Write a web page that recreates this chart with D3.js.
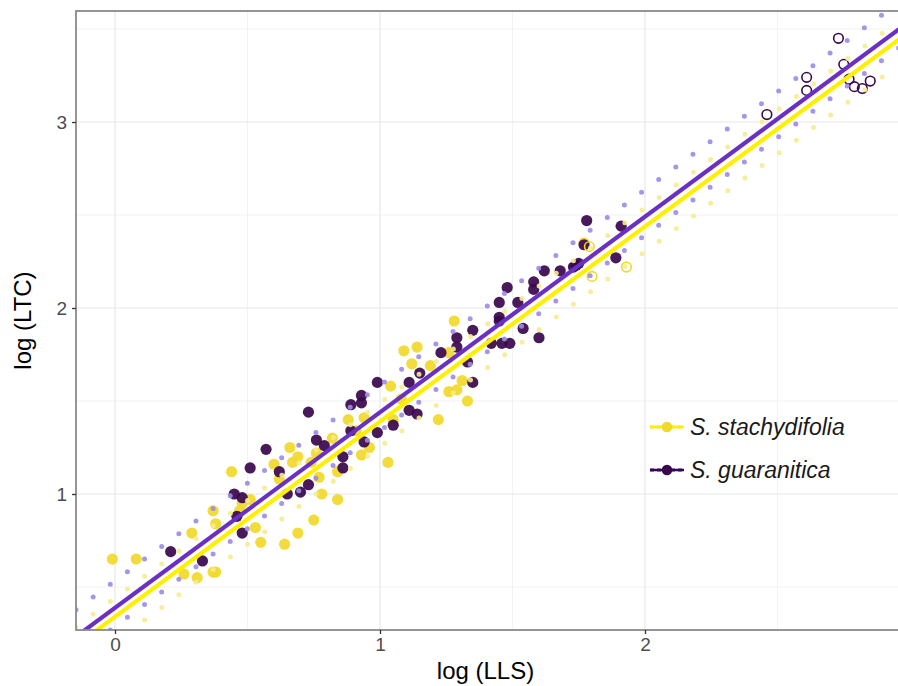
<!DOCTYPE html>
<html>
<head>
<meta charset="utf-8">
<script src="https://cdn.jsdelivr.net/npm/d3@7"></script>
<style>
  body { margin: 0; background: #fff; }
  svg { display: block; font-family: "Liberation Sans", Arial, sans-serif; }
</style>
</head>
<body>
<svg id="chart" width="898" height="686"></svg>
<script>
// species, in legend order
const species = ["S. stachydifolia", "S. guaranitica"];
const speciesColor = ["#f0d92a", "#38074c"];
const fitColor = ["#fff000", "#6a30c4"];
const bandColor = ["#f4ec90", "#9d8be4"];

// S. stachydifolia, filled points (log LLS, log LTC)
const stachLLS = [-0.01, 0.08, 0.26, 0.31, 0.37, 0.38, 0.29, 0.37, 0.38, 0.53, 0.55, 0.64, 0.48, 0.44, 0.60, 0.62,
  0.69, 0.67, 0.77, 0.78, 0.84, 0.75, 0.69, 0.88, 0.94, 0.93, 0.96, 1.03, 0.82, 0.76, 0.84, 0.66, 1.09, 1.14,
  1.12, 1.04, 1.19, 1.26, 1.28, 1.31, 1.26, 1.29, 1.33, 1.22, 1.05, 1.77, 0.51, 0.74, 0.91, 1.08, 0.47];
const stachLTC = [0.65, 0.65, 0.57, 0.55, 0.58, 0.58, 0.79, 0.91, 0.84, 0.82, 0.74, 0.73, 0.95, 1.12, 1.16, 1.08,
  1.20, 1.17, 1.09, 1.00, 0.97, 0.86, 0.79, 1.40, 1.41, 1.21, 1.25, 1.17, 1.30, 1.22, 1.12, 1.25, 1.77, 1.79,
  1.70, 1.58, 1.69, 1.76, 1.93, 1.61, 1.55, 1.56, 1.50, 1.40, 1.40, 2.35, 0.97, 1.17, 1.34, 1.51, 0.91];

// S. guaranitica, filled points
const guarLLS = [0.21, 0.33, 0.45, 0.48, 0.46, 0.65, 0.57, 0.51, 0.62, 0.48, 0.70, 0.73, 0.76, 0.79, 0.86, 0.86,
  0.89, 0.94, 0.99, 1.05, 0.73, 0.99, 1.11, 0.93, 0.89, 0.93, 1.11, 1.14, 1.15, 1.23, 1.29, 1.29, 1.35, 1.35,
  1.33, 1.42, 1.46, 1.49, 1.54, 1.45, 1.77, 1.62, 1.68, 1.48, 1.58, 1.58, 1.45, 1.52, 1.45, 1.60, 1.73, 1.75,
  1.89, 1.78, 1.91, 1.74];
const guarLTC = [0.69, 0.64, 1.00, 0.79, 0.88, 1.00, 1.24, 1.14, 1.12, 0.98, 1.01, 1.05, 1.29, 1.26, 1.20, 1.14,
  1.34, 1.28, 1.33, 1.37, 1.44, 1.60, 1.60, 1.53, 1.48, 1.49, 1.45, 1.43, 1.65, 1.76, 1.84, 1.79, 1.88, 1.60,
  1.71, 1.81, 1.81, 1.81, 1.89, 1.93, 2.34, 2.20, 2.20, 2.11, 2.14, 2.10, 2.03, 2.03, 1.95, 1.84, 2.22, 2.24,
  2.27, 2.47, 2.44, 2.23];

// open circles
const stachOpenLLS = [1.79, 1.93, 1.80];
const stachOpenLTC = [2.33, 2.22, 2.17];
const guarOpenLLS = [2.73, 2.75, 2.61, 2.61, 2.46, 2.79, 2.82, 2.85, 2.77];
const guarOpenLTC = [3.45, 3.31, 3.24, 3.17, 3.04, 3.19, 3.18, 3.22, 3.23];

// fitted lines and dotted bands, per species
const fitIntercept = [0.340, 0.388];
const fitSlope = [1.049, 1.0515];
const bandUpper = [0.10, 0.145];
const bandLower = [-0.135, -0.10];

const xTicks = [0, 1, 2];
const yTicks = [1, 2, 3];
const xMinor = [0.5, 1.5, 2.5];
const yMinor = [0.5, 1.5, 2.5, 3.5];

const svg = d3.select("#chart");
const pLeft = 76, pTop = 11, pRight = 899, pBottom = 630;

const x = d3.scaleLinear().domain([-0.1472, 2.9585]).range([pLeft, pRight]);
const y = d3.scaleLinear().domain([0.2688, 3.5968]).range([pBottom, pTop]);

svg.append("defs").append("clipPath").attr("id", "panel")
  .append("rect").attr("x", pLeft).attr("y", pTop).attr("width", pRight - pLeft).attr("height", pBottom - pTop);

// grid
const grid = svg.append("g");
grid.selectAll(".xminor").data(xMinor).enter().append("line")
  .attr("x1", d => x(d)).attr("x2", d => x(d)).attr("y1", pTop).attr("y2", pBottom)
  .attr("stroke", "#f0f0f0").attr("stroke-width", 0.9);
grid.selectAll(".yminor").data(yMinor).enter().append("line")
  .attr("y1", d => y(d)).attr("y2", d => y(d)).attr("x1", pLeft).attr("x2", pRight)
  .attr("stroke", "#f0f0f0").attr("stroke-width", 0.9);
grid.selectAll(".xmajor").data(xTicks).enter().append("line")
  .attr("x1", d => x(d)).attr("x2", d => x(d)).attr("y1", pTop).attr("y2", pBottom)
  .attr("stroke", "#e8e8e8").attr("stroke-width", 1.2);
grid.selectAll(".ymajor").data(yTicks).enter().append("line")
  .attr("y1", d => y(d)).attr("y2", d => y(d)).attr("x1", pLeft).attr("x2", pRight)
  .attr("stroke", "#e8e8e8").attr("stroke-width", 1.2);

const plot = svg.append("g").attr("clip-path", "url(#panel)");

// points
function drawPoints(xs, ys, i, open) {
  plot.append("g").selectAll("circle")
    .data(xs.map((v, k) => [v, ys[k]]))
    .enter().append("circle")
    .attr("cx", d => x(d[0])).attr("cy", d => y(d[1]))
    .attr("r", open ? 4.8 : 5.6)
    .attr("fill", open ? "none" : speciesColor[i])
    .attr("fill-opacity", 0.92)
    .attr("stroke", speciesColor[i])
    .attr("stroke-width", open ? 1.6 : 0);
}
drawPoints(stachLLS, stachLTC, 0, false);
drawPoints(guarLLS, guarLTC, 1, false);
drawPoints(stachOpenLLS, stachOpenLTC, 0, true);
drawPoints(guarOpenLLS, guarOpenLTC, 1, true);

// dotted bands then fitted lines
const xd = x.domain();
const line = d3.line().x(d => x(d[0])).y(d => y(d[1]));
species.forEach((s, i) => {
  [bandUpper[i], bandLower[i]].forEach(off => {
    plot.append("path")
      .attr("d", line(xd.map(v => [v, fitIntercept[i] + off + fitSlope[i] * v])))
      .attr("fill", "none").attr("stroke", bandColor[i]).attr("stroke-width", 5)
      .attr("stroke-linecap", "round").attr("stroke-dasharray", "0 21.3")
      .attr("stroke-opacity", 0.9);
  });
});
species.forEach((s, i) => {
  plot.append("path")
    .attr("d", line(xd.map(v => [v, fitIntercept[i] + fitSlope[i] * v])))
    .attr("fill", "none").attr("stroke", fitColor[i]).attr("stroke-width", 4.2);
});

// panel border and axes
svg.append("rect").attr("x", pLeft).attr("y", pTop).attr("width", pRight - pLeft).attr("height", pBottom - pTop)
  .attr("fill", "none").attr("stroke", "#8a8a8a").attr("stroke-width", 1.8);

const xAxis = svg.append("g").attr("transform", `translate(0,${pBottom})`)
  .call(d3.axisBottom(x).tickValues(xTicks).tickFormat(d3.format("d")).tickSize(4).tickPadding(4));
const yAxis = svg.append("g").attr("transform", `translate(${pLeft},0)`)
  .call(d3.axisLeft(y).tickValues(yTicks).tickFormat(d3.format("d")).tickSize(4).tickPadding(5));
[xAxis, yAxis].forEach(a => {
  a.select(".domain").remove();
  a.selectAll(".tick line").attr("stroke", "#333").attr("stroke-width", 1.3);
  a.selectAll(".tick text").attr("fill", "#4d4d4d").style("font-size", "19px")
    .style("font-family", "Liberation Sans, Arial, sans-serif");
});

svg.append("text").attr("x", (pLeft + pRight) / 2 - 2).attr("y", 679)
  .attr("text-anchor", "middle").style("font-size", "24px").attr("fill", "#000")
  .text("log (LLS)");
svg.append("text").attr("transform", `translate(31,${(pTop + pBottom) / 2}) rotate(-90)`)
  .attr("text-anchor", "middle").style("font-size", "24px").attr("fill", "#000")
  .text("log (LTC)");

// legend
const legend = svg.append("g").attr("transform", "translate(650,427)");
species.forEach((s, i) => {
  const g = legend.append("g").attr("transform", `translate(0,${i * 43})`);
  g.append("line").attr("x1", 0).attr("x2", 34).attr("y1", 0).attr("y2", 0)
    .attr("stroke", bandColor[i]).attr("stroke-width", 4).attr("stroke-dasharray", "4 3");
  g.append("line").attr("x1", 0).attr("x2", 34).attr("y1", 0).attr("y2", 0)
    .attr("stroke", i === 0 ? fitColor[i] : speciesColor[i]).attr("stroke-width", 2.5);
  g.append("circle").attr("cx", 17).attr("cy", 0).attr("r", 5.3).attr("fill", speciesColor[i]);
  g.append("text").attr("x", 40).attr("y", 8).style("font-size", "23px")
    .style("font-style", "italic").attr("fill", "#1a1a1a").text(s);
});
</script>
</body>
</html>
